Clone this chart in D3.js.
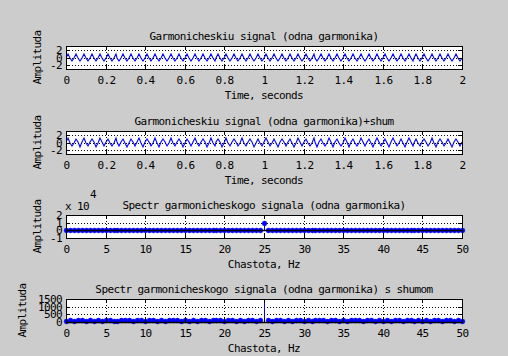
<!DOCTYPE html>
<html><head><meta charset="utf-8">
<script src="https://cdn.jsdelivr.net/npm/d3@7"></script>
<style>html,body{margin:0;padding:0;background:#cccccc;overflow:hidden}</style>
</head><body><svg id="chart" width="508" height="356"></svg>
<script>
// ---------- data ----------
const titles = [
  "Garmonicheskiu signal (odna garmonika)",
  "Garmonicheskiu signal (odna garmonika)+shum",
  "Spectr garmonicheskogo signala (odna garmonika)",
  "Spectr garmonicheskogo signala (odna garmonika) s shumom"
];
const timeLabel = "Time, seconds";
const freqLabel = "Chastota, Hz";
const ampLabel = "Amplituda";

const timeTicks = [0, 0.2, 0.4, 0.6, 0.8, 1, 1.2, 1.4, 1.6, 1.8, 2];
const timeTickLabels = ["0", "0.2", "0.4", "0.6", "0.8", "1", "1.2", "1.4", "1.6", "1.8", "2"];
const freqTicks = [0, 5, 10, 15, 20, 25, 30, 35, 40, 45, 50];
const freqTickLabels = ["0", "5", "10", "15", "20", "25", "30", "35", "40", "45", "50"];
const signalTicks = [-2, 0, 2];
const signalTickLabels = ["-2", "0", "2"];
const spectrumTicks = [-10000, 0, 10000, 20000];
const spectrumTickLabels = ["-1", "0", "1", "2"];
const noisySpectrumTicks = [0, 500, 1000, 1500];
const noisySpectrumTickLabels = ["0", "500", "1000", "1500"];

const sampleStep = 0.01;   // seconds between samples
const freqStep = 0.5;      // Hz between spectrum bins

const signalClean = [
  0,1,0,-1,0,1,0,-1,0,1,0,-1,0,1,0,-1,0,1,0,-1,
  0,1,0,-1,0,1,0,-1,0,1,0,-1,0,1,0,-1,0,1,0,-1,
  0,1,0,-1,0,1,0,-1,0,1,0,-1,0,1,0,-1,0,1,0,-1,
  0,1,0,-1,0,1,0,-1,0,1,0,-1,0,1,0,-1,0,1,0,-1,
  0,1,0,-1,0,1,0,-1,0,1,0,-1,0,1,0,-1,0,1,0,-1,
  0,1,0,-1,0,1,0,-1,0,1,0,-1,0,1,0,-1,0,1,0,-1,
  0,1,0,-1,0,1,0,-1,0,1,0,-1,0,1,0,-1,0,1,0,-1,
  0,1,0,-1,0,1,0,-1,0,1,0,-1,0,1,0,-1,0,1,0,-1,
  0,1,0,-1,0,1,0,-1,0,1,0,-1,0,1,0,-1,0,1,0,-1,
  0,1,0,-1,0,1,0,-1,0,1,0,-1,0,1,0,-1,0,1,0,-1,
  0
];

const signalNoisy = [
  0.08,1.12,-0.05,-0.94, -0.11,0.97,0.14,-1.08, 0.03,1.05,-0.12,-0.91, 0.16,0.93,0.02,-1.13, -0.07,1.15,0.09,-0.98,
  0.12,0.89,-0.15,-1.02, -0.04,1.09,0.06,-0.87, 0.10,1.01,-0.09,-1.11, -0.13,0.95,0.11,-0.96, 0.05,1.14,-0.03,-1.05,
  0.14,0.92,0.07,-0.90, -0.08,1.07,-0.14,-1.09, 0.02,0.98,0.13,-0.95, -0.10,1.11,-0.06,-1.04, 0.09,0.90,0.04,-1.12,
  -0.15,1.03,0.10,-0.93, 0.06,1.13,-0.11,-0.99, 0.13,0.94,0.01,-1.07, -0.02,1.06,-0.08,-0.89, 0.11,0.99,0.15,-1.10,
  -0.09,1.10,-0.04,-0.97, 0.04,0.91,0.08,-1.03, -0.12,1.08,-0.13,-0.92, 0.15,0.96,0.05,-1.14, -0.06,1.02,-0.10,-1.00,
  0.07,1.12,0.12,-0.88, -0.14,0.93,-0.02,-1.06, 0.01,1.04,0.09,-0.95, 0.12,0.88,-0.07,-1.09, -0.05,1.13,0.14,-1.01,
  0.10,0.97,-0.12,-0.94, -0.08,1.07,0.03,-1.12, 0.14,0.95,-0.05,-0.90, -0.03,1.10,0.11,-1.05, 0.06,0.92,-0.14,-0.98,
  -0.11,1.05,0.07,-1.08, 0.09,1.00,-0.01,-0.93, -0.15,1.14,0.13,-1.03, 0.03,0.90,-0.09,-1.11, 0.13,1.06,0.04,-0.91,
  -0.07,0.98,-0.11,-1.07, 0.05,1.11,0.10,-0.96, -0.12,0.94,-0.06,-1.13, 0.11,1.09,0.15,-0.89, -0.02,0.91,-0.13,-1.04,
  0.08,1.03,0.02,-0.99, -0.09,1.15,-0.08,-1.10, 0.15,0.96,0.06,-0.92, -0.04,1.02,-0.15,-1.06, 0.07,0.93,0.12,-0.97,
  0.02
];

const spectrumClean = [
  0,0,0,0,0,0,0,0,0,0,
  0,0,0,0,0,0,0,0,0,0,
  0,0,0,0,0,0,0,0,0,0,
  0,0,0,0,0,0,0,0,0,0,
  0,0,0,0,0,0,0,0,0,0,
  10000,
  0,0,0,0,0,0,0,0,0,0,
  0,0,0,0,0,0,0,0,0,0,
  0,0,0,0,0,0,0,0,0,0,
  0,0,0,0,0,0,0,0,0,0,
  0,0,0,0,0,0,0,0,0,0
];

const spectrumNoisy = [
  95,112,78,130,104,88,121,97,140,83,
  109,126,91,75,118,102,135,86,99,115,
  81,128,107,93,138,72,116,101,124,89,
  111,96,133,79,106,120,87,142,98,113,
  84,127,103,92,119,76,131,108,94,122,
  10300,
  100,85,117,129,90,110,77,136,105,97,
  123,82,114,101,139,88,107,125,93,118,
  80,132,99,111,86,121,104,74,128,95,
  116,89,137,102,91,124,108,83,119,97,
  130,87,112,100,78,126,106,93,134,90
];

// ---------- layout ----------
const W = 508, H = 356;
const LEFT = 66, RIGHT = 462;
const FONT = "'DejaVu Sans Mono', monospace";
const FSIZE = 11, LSP = -0.6;
const BLUE = "#0000ff";

const svg = d3.select("#chart");
svg.append("rect").attr("width", W).attr("height", H).attr("fill", "#cccccc");

const panels = [
  { top: 46, bottom: 69, kind: "line", values: signalClean, step: sampleStep,
    xDomain: [0, 2], yDomain: [-3, 3], xTicks: timeTicks, xLabels: timeTickLabels,
    yTicks: signalTicks, yLabels: signalTickLabels, title: titles[0], xTitle: timeLabel, yTitleX: 41 },
  { top: 131, bottom: 154, kind: "line", values: signalNoisy, step: sampleStep,
    xDomain: [0, 2], yDomain: [-3, 3], xTicks: timeTicks, xLabels: timeTickLabels,
    yTicks: signalTicks, yLabels: signalTickLabels, title: titles[1], xTitle: timeLabel, yTitleX: 41 },
  { top: 215, bottom: 238, kind: "stem", values: spectrumClean, step: freqStep,
    xDomain: [0, 50], yDomain: [-10000, 20000], xTicks: freqTicks, xLabels: freqTickLabels,
    yTicks: spectrumTicks, yLabels: spectrumTickLabels, title: titles[2], xTitle: freqLabel, yTitleX: 41,
    exponent: "4" },
  { top: 299, bottom: 322, kind: "stem", values: spectrumNoisy, step: freqStep,
    xDomain: [0, 50], yDomain: [0, 1500], xTicks: freqTicks, xLabels: freqTickLabels,
    yTicks: noisySpectrumTicks, yLabels: noisySpectrumTickLabels, title: titles[3], xTitle: freqLabel, yTitleX: 26 }
];

function textStyle(sel) {
  sel.attr("font-family", FONT).attr("font-size", FSIZE).attr("letter-spacing", LSP).attr("fill", "#000");
}

function styleAxis(g) {
  g.select(".domain").remove();
  g.selectAll("line").attr("stroke", "#000").attr("shape-rendering", "crispEdges");
  g.selectAll("text").call(textStyle);
  g.attr("font-family", FONT).attr("font-size", FSIZE);
}

panels.forEach((p, pi) => {
  const g = svg.append("g");
  const x = d3.scaleLinear().domain(p.xDomain).range([LEFT, RIGHT]).interpolate(d3.interpolateRound);
  const y = d3.scaleLinear().domain(p.yDomain).range([p.bottom, p.top]).interpolate(d3.interpolateRound);

  // white plotting area
  g.append("rect").attr("x", LEFT).attr("y", p.top)
    .attr("width", RIGHT - LEFT).attr("height", p.bottom - p.top).attr("fill", "#fff");

  const clipId = "clip" + pi;
  g.append("clipPath").attr("id", clipId).append("rect")
    .attr("x", LEFT).attr("y", p.top).attr("width", RIGHT - LEFT + 1).attr("height", p.bottom - p.top + 1);

  // dotted grid
  g.append("g").selectAll("line").data(p.xTicks).join("line")
    .attr("x1", d => x(d) + 0.5).attr("x2", d => x(d) + 0.5)
    .attr("y1", p.top).attr("y2", p.bottom)
    .attr("stroke", "#000").attr("stroke-width", 1).attr("stroke-dasharray", "1,2")
    .attr("shape-rendering", "crispEdges");
  g.append("g").selectAll("line").data(p.yTicks).join("line")
    .attr("x1", LEFT).attr("x2", RIGHT)
    .attr("y1", d => y(d) + 0.5).attr("y2", d => y(d) + 0.5)
    .attr("stroke", "#000").attr("stroke-width", 1).attr("stroke-dasharray", "1,2")
    .attr("shape-rendering", "crispEdges");

  // data
  if (p.kind === "line") {
    const line = d3.line().x((d, i) => x(i * p.step)).y(d => y(d));
    g.append("path").datum(p.values).attr("d", line)
      .attr("fill", "none").attr("stroke", BLUE).attr("stroke-width", 1.1)
      .attr("clip-path", `url(#${clipId})`);
  } else {
    const base = y(0) + 0.5;
    g.append("g").attr("clip-path", `url(#${clipId})`)
      .selectAll("line").data(p.values).join("line")
      .attr("x1", (d, i) => x(i * p.step) + 0.5).attr("x2", (d, i) => x(i * p.step) + 0.5)
      .attr("y1", base).attr("y2", d => y(d))
      .attr("stroke", BLUE).attr("stroke-width", 1).attr("shape-rendering", "crispEdges");
    const inside = p.values.map((d, i) => ({ f: i * p.step, v: d }))
      .filter(d => d.v >= p.yDomain[0] && d.v <= p.yDomain[1]);
    g.append("g").selectAll("circle").data(inside).join("circle")
      .attr("cx", d => x(d.f) + 0.5).attr("cy", d => y(d.v) + 0.5).attr("r", 2.4)
      .attr("fill", BLUE).attr("stroke", BLUE).attr("stroke-width", 0.5);
    g.append("line")
      .attr("x1", x(p.xDomain[0])).attr("x2", x(p.xDomain[1]) + 1)
      .attr("y1", base).attr("y2", base)
      .attr("stroke", "#000").attr("stroke-width", 1.5);
  }

  // axes (inward ticks, MATLAB style)
  g.append("g").attr("transform", `translate(0,${p.bottom})`)
    .call(d3.axisBottom(x).tickValues(p.xTicks).tickFormat((d, i) => p.xLabels[i]).tickSize(-4).tickPadding(7))
    .call(styleAxis);
  g.append("g").attr("transform", `translate(0,${p.top})`)
    .call(d3.axisTop(x).tickValues(p.xTicks).tickFormat("").tickSize(-4))
    .call(styleAxis);
  g.append("g").attr("transform", `translate(${LEFT},0)`)
    .call(d3.axisLeft(y).tickValues(p.yTicks).tickFormat((d, i) => p.yLabels[i]).tickSize(-4).tickPadding(4))
    .call(styleAxis);
  g.append("g").attr("transform", `translate(${RIGHT},0)`)
    .call(d3.axisRight(y).tickValues(p.yTicks).tickFormat("").tickSize(-4))
    .call(styleAxis);

  // box
  g.append("rect").attr("x", LEFT + 0.5).attr("y", p.top + 0.5)
    .attr("width", RIGHT - LEFT).attr("height", p.bottom - p.top)
    .attr("fill", "none").attr("stroke", "#000").attr("stroke-width", 1);

  // texts
  g.append("text").attr("x", (LEFT + RIGHT) / 2).attr("y", p.top - 6)
    .attr("text-anchor", "middle").call(textStyle).text(p.title);
  g.append("text").attr("x", (LEFT + RIGHT) / 2).attr("y", p.bottom + 30)
    .attr("text-anchor", "middle").call(textStyle).text(p.xTitle);
  g.append("text")
    .attr("transform", `translate(${p.yTitleX},${(p.top + p.bottom) / 2}) rotate(-90)`)
    .attr("text-anchor", "middle").call(textStyle).text(ampLabel);
  if (p.exponent) {
    g.append("text").attr("x", LEFT - 1).attr("y", p.top - 5).call(textStyle).text("x 10");
    g.append("text").attr("x", LEFT + 24).attr("y", p.top - 17).call(textStyle).text(p.exponent);
  }
});
</script>
</body></html>
